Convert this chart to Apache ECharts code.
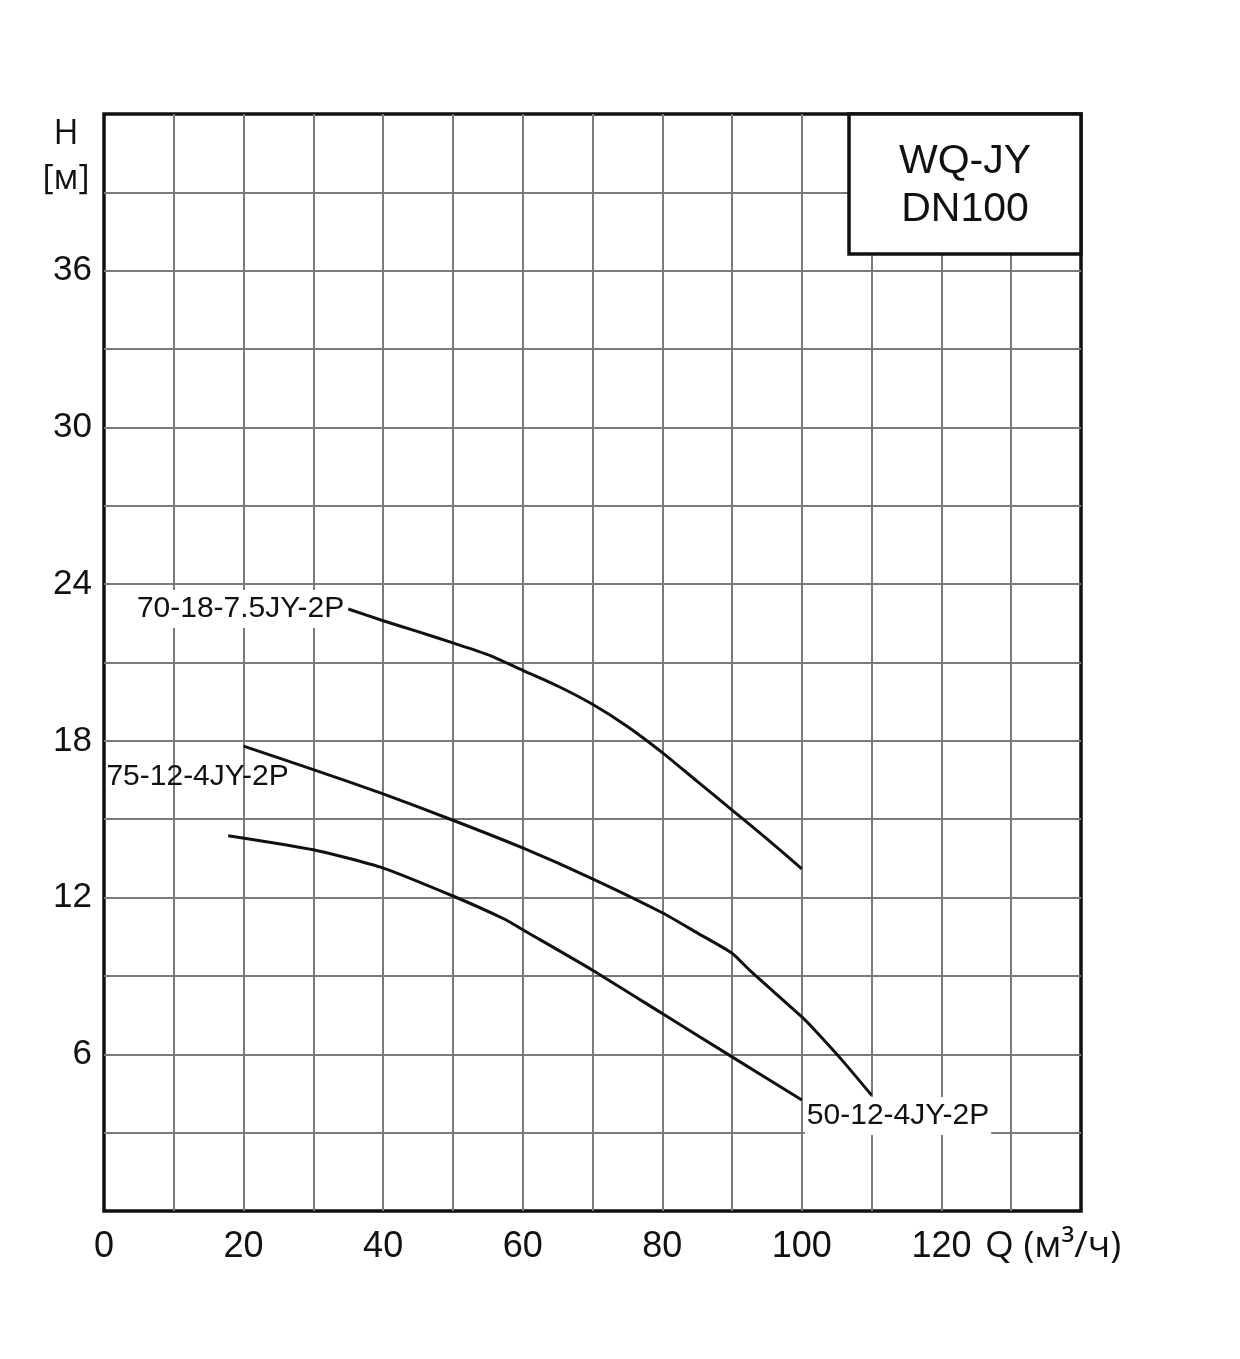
<!DOCTYPE html>
<html>
<head>
<meta charset="utf-8">
<title>WQ-JY DN100</title>
<script src="https://cdn.jsdelivr.net/npm/echarts@6/dist/echarts.min.js"></script>
<style>
    html, body { margin: 0; padding: 0; background: #fff; }
    #main { width: 1240px; height: 1359px; }
</style>
</head>
<body>
<div id="main"></div>
<script>
// подача Q (м³/ч) и напор H (м)
const curve70_18 = [[35, 23.05], [40, 22.6], [45, 22.18], [50, 21.75], [55, 21.3], [60, 20.7], [65, 20.1],
    [70, 19.4], [75, 18.55], [80, 17.55], [85, 16.45], [90, 15.35], [95, 14.25], [100, 13.1]]
const curve75_12 = [[20, 17.8], [30, 16.9], [40, 15.97], [50, 14.96], [60, 13.9], [70, 12.72],
    [80, 11.42], [85, 10.65], [90, 9.87], [92.5, 9.22], [100, 7.43], [102, 6.88],
    [106, 5.7], [110, 4.43]]
const curve50_12 = [[17.8, 14.37], [30, 13.83], [40, 13.13], [50, 12.06], [57.5, 11.16],
    [60, 10.77], [70, 9.22], [80, 7.56], [90, 5.9], [100, 4.25]]
const seriesNames = ['70-18-7.5JY-2P', '75-12-4JY-2P', '50-12-4JY-2P']
const xTickLabels = [0, 20, 40, 60, 80, 100, 120]
const yTickLabels = [6, 12, 18, 24, 30, 36]

const FONT = '"Liberation Sans", Arial, sans-serif'

// подпись к одной точке кривой
function labelled(data, idx, label) {
    return data.map((p, i) => i === idx
        ? { value: p, symbolSize: 0.01, label: Object.assign({ show: true }, label) }
        : { value: p, symbolSize: 0.01 })
}

const labelBase = {
    color: '#111',
    fontFamily: FONT,
    fontSize: 30,
    backgroundColor: '#fff',
    padding: [4, 2]
}

function curve(name, data) {
    return {
        name: name,
        type: 'line',
        smooth: 0.2,
        showSymbol: true,
        symbol: 'circle',
        itemStyle: { color: '#111' },
        lineStyle: { color: '#111', width: 3 },
        data: data
    }
}

let myChart = echarts.init(document.getElementById('main'))
myChart.setOption({
    backgroundColor: '#fff',
    animation: false,
    grid: {
        left: 104, right: 159, top: 114, bottom: 148,
        show: true,
        borderColor: '#111',
        borderWidth: 3.5,
        backgroundColor: '#fff'
    },
    xAxis: {
        type: 'value',
        min: 0, max: 140, interval: 10,
        axisLine: { show: false },
        axisTick: { show: false },
        splitLine: { show: true, showMinLine: false, showMaxLine: false, lineStyle: { color: '#7a7a7a', width: 2 } },
        axisLabel: {
            fontSize: 36, color: '#111', fontFamily: FONT, margin: 18,
            formatter: v => xTickLabels.includes(v) ? String(v) : ''
        }
    },
    yAxis: {
        type: 'value',
        min: 0, max: 42, interval: 3,
        axisLine: { show: false },
        axisTick: { show: false },
        splitLine: { show: true, showMinLine: false, showMaxLine: false, lineStyle: { color: '#7a7a7a', width: 2 } },
        axisLabel: {
            fontSize: 35, color: '#111', fontFamily: FONT, margin: 12,
            formatter: v => yTickLabels.includes(v) ? String(v) : ''
        }
    },
    series: [
        curve(seriesNames[0], labelled(curve70_18, 0, Object.assign({}, labelBase, {
            position: 'left', distance: 2, formatter: seriesNames[0]
        }))),
        curve(seriesNames[1], labelled(curve75_12, 0, Object.assign({}, labelBase, {
            position: 'bottom', distance: 0, offset: [-46, 16],
            backgroundColor: 'transparent', padding: 0, formatter: seriesNames[1]
        }))),
        curve(seriesNames[2], labelled(curve50_12, curve50_12.length - 1, Object.assign({}, labelBase, {
            position: 'right', distance: 3, offset: [0, 16], formatter: seriesNames[2]
        })))
    ],
    graphic: [
        // обозначение серии в правом верхнем углу
        {
            type: 'rect', z: 10,
            shape: { x: 849, y: 114, width: 232, height: 140 },
            style: { fill: '#fff', stroke: '#111', lineWidth: 3.5 }
        },
        {
            type: 'text', z: 11, x: 965, y: 186,
            style: {
                text: 'WQ-JY\nDN100', fill: '#111', font: '41px ' + FONT,
                align: 'center', verticalAlign: 'middle', lineHeight: 48
            }
        },
        // подписи осей
        {
            type: 'text', x: 66, y: 157,
            style: {
                text: 'H\n[м]', fill: '#111', font: '34px "Open Sans", sans-serif',
                align: 'center', verticalAlign: 'middle', lineHeight: 45
            }
        },
        {
            type: 'text', x: 985, y: 1246,
            style: {
                text: 'Q (м³/ч)', fill: '#111', font: '37px "Open Sans", sans-serif',
                align: 'left', verticalAlign: 'middle'
            }
        }
    ]
})
</script>
</body>
</html>
